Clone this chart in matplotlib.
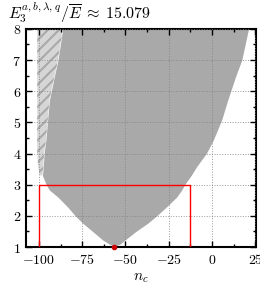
import matplotlib
matplotlib.use("Agg")
import matplotlib.pyplot as plt
from matplotlib.ticker import MultipleLocator, FuncFormatter

plt.rcParams['mathtext.fontset'] = 'cm'
plt.rcParams['font.family'] = 'serif'
plt.rcParams['font.serif'] = ['DejaVu Serif']
plt.rcParams['hatch.linewidth'] = 1.5

region_y = [1.03, 1.1, 1.22, 1.5, 1.77, 2.0, 2.29, 2.6, 2.83, 3.02, 3.3, 3.58, 4.02, 4.44, 5.08, 5.7, 6.5, 7.0, 8.1]
region_left = [-57, -59.5, -63, -69, -74.8, -79, -83.5, -89, -94, -96, -98, -97.5, -97, -96, -95, -94, -91, -89, -86]
region_right = [-56, -53, -50.4, -44, -37, -32, -26.3, -20.5, -17.5, -15.6, -12, -8.9, -3.1, 0.8, 5.6, 9.0, 13.8, 17.2, 21.5]

# Sparse striped zone on the left (upper part)
stripe_y = [3.3, 3.58, 4.02, 4.44, 5.08, 5.7, 6.5, 7.0, 8.1]
stripe_left = [-99.5, -100.5, -101, -101, -101, -101, -101, -101, -101]
stripe_right = [-98, -97.5, -97, -96, -95, -94, -91, -89, -86]

# Red rectangle and minimum point
rect_x = [-100, -100, -12.5, -12.5]
rect_y = [1, 3, 3, 1]
min_x = [-56.5]
min_y = [1.0]

fig = plt.figure(figsize=(2.6, 2.92), dpi=100)
ax = fig.add_axes([0.1, 0.154, 0.885, 0.747])

ax.fill_betweenx(region_y, region_left, region_right, color='darkgray', lw=0, zorder=1)
ax.fill_betweenx(stripe_y, stripe_left, stripe_right, facecolor='#d6d6d6', edgecolor='darkgray',
                 hatch='///', lw=0, zorder=1)

ax.plot(rect_x, rect_y, color='red', lw=1.0, zorder=3)
ax.plot(min_x, min_y, 'o', color='#cc0000', ms=3, zorder=4, clip_on=False)

ax.set_xlim(-107.5, 25.5)
ax.set_ylim(1, 8)
ax.xaxis.set_major_locator(MultipleLocator(25))
ax.xaxis.set_minor_locator(MultipleLocator(12.5))
ax.yaxis.set_major_locator(MultipleLocator(1))
ax.yaxis.set_minor_locator(MultipleLocator(0.5))
fmt = FuncFormatter(lambda v, p: r'$%g$' % v)
ax.xaxis.set_major_formatter(fmt)
ax.yaxis.set_major_formatter(fmt)
ax.tick_params(which='both', direction='in', top=True, right=True, labelsize=10, width=1.0)
ax.tick_params(which='major', length=4.5)
ax.tick_params(which='minor', length=2.5)
ax.tick_params(axis='x', pad=4)
for s in ax.spines.values():
    s.set_linewidth(1.5)
ax.grid(True, which='major', ls=':', color='gray', lw=0.7, alpha=0.8, zorder=2)
ax.set_axisbelow(False)

ax.set_xlabel(r'$n_c$', fontsize=11, labelpad=3)
fig.text(0.03, 0.937, r'$E_3^{a,b,\lambda,q}/\overline{E}\;\approx\;15.079$', fontsize=11.5,
         ha='left', va='baseline')

fig.savefig('out.png', dpi=100)
